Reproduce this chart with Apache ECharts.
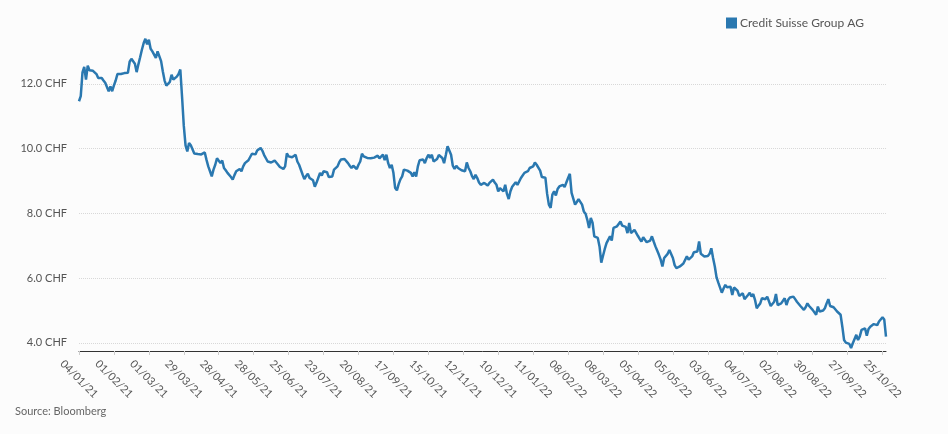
<!DOCTYPE html>
<html>
<head>
<meta charset="utf-8">
<script src="https://cdn.jsdelivr.net/npm/echarts@6/dist/echarts.min.js"></script>
<style>
html,body{margin:0;padding:0;background:#fcfcfc;}
#chart{width:948px;height:434px;}
</style>
</head>
<body>
<div id="chart"></div>
<script>
// Trading calendar (SIX Swiss Exchange), first day and exchange holidays
const startDate = '2021-01-04';
const tradingDayCount = 463;
const holidays = ['2021-04-02','2021-04-05','2021-05-13','2021-05-24','2021-12-24','2021-12-31',
  '2022-04-15','2022-04-18','2022-05-26','2022-06-06','2022-08-01'];

// Closing prices (CHF)
const closes2021 = [
  11.46,11.62,12.35,12.52,12.13,12.56,12.42,12.38,12.40,12.34,
  12.30,12.18,12.22,12.18,12.10,12.03,11.90,11.77,11.92,11.77,
  11.95,12.10,12.30,12.34,12.30,12.35,12.33,12.36,12.34,12.68,
  12.77,12.72,12.62,12.36,12.60,12.82,13.05,13.25,13.39,13.22,
  13.36,13.08,13.00,12.96,12.80,13.00,12.96,12.70,12.38,12.10,
  11.94,11.98,12.06,12.28,12.13,12.16,12.22,12.30,12.44,11.60,
  10.70,10.10,9.91,10.17,10.10,10.07,9.85,9.81,9.83,9.80,
  9.82,9.81,9.88,9.65,9.45,9.30,9.14,9.35,9.50,9.70,
  9.72,9.55,9.63,9.40,9.33,9.25,9.20,9.12,9.04,9.18,
  9.30,9.35,9.37,9.30,9.45,9.55,9.60,9.64,9.62,9.84,
  9.78,9.82,9.94,10.00,10.02,9.93,9.80,9.70,9.60,9.58,
  9.57,9.60,9.63,9.58,9.50,9.43,9.38,9.37,9.45,9.85,
  9.76,9.71,9.73,9.74,9.81,9.60,9.50,9.45,9.20,9.06,
  9.15,9.22,9.09,9.06,9.02,8.82,8.95,9.10,9.25,9.17,
  9.30,9.35,9.27,9.12,9.10,9.14,9.35,9.40,9.45,9.58,
  9.66,9.65,9.68,9.62,9.55,9.47,9.40,9.47,9.42,9.37,
  9.50,9.60,9.84,9.76,9.74,9.71,9.72,9.70,9.71,9.72,
  9.68,9.78,9.70,9.66,9.81,9.64,9.81,9.55,9.40,9.50,
  9.25,8.78,8.71,8.90,9.05,9.14,9.35,9.30,9.32,9.28,
  9.25,9.14,9.27,9.14,9.45,9.64,9.60,9.66,9.55,9.70,
  9.81,9.71,9.81,9.60,9.64,9.68,9.80,9.86,9.71,9.55,
  9.80,10.07,10.06,9.81,9.47,9.37,9.47,9.40,9.35,9.33,
  9.32,9.30,9.57,9.40,9.30,9.15,9.06,9.19,9.09,8.95,
  8.88,8.83,8.94,8.90,8.86,8.94,8.98,9.04,8.95,8.88,
  8.68,8.78,8.74,8.68,8.88,8.60,8.44,8.68,8.82,8.88,
  8.96,8.88,8.86,9.09
];
const closes2022 = [
  9.15,9.25,9.28,9.30,9.40,9.35,
  9.45,9.57,9.50,9.45,9.32,9.12,9.15,9.10,8.60,8.27,
  8.17,8.58,8.68,8.55,8.75,8.83,8.88,8.88,8.81,8.95,
  9.09,9.22,8.63,8.60,8.27,8.35,8.44,8.40,8.27,8.06,
  7.99,7.80,7.55,7.86,7.71,7.29,7.34,7.24,6.98,6.48,
  6.69,6.90,7.08,7.03,7.29,7.16,7.55,7.58,7.60,7.65,
  7.75,7.62,7.60,7.58,7.39,7.70,7.39,7.45,7.49,7.44,
  7.30,7.21,7.13,7.26,7.26,7.11,7.14,7.16,7.29,7.13,
  6.98,6.85,6.72,6.57,6.36,6.62,6.57,6.75,6.87,6.90,
  6.62,6.40,6.31,6.28,6.36,6.38,6.45,6.51,6.67,6.57,
  6.51,6.67,6.80,6.75,6.82,7.13,6.75,6.70,6.67,6.62,
  6.68,6.75,6.92,6.62,6.36,6.02,5.86,5.84,5.55,5.68,
  5.79,5.72,5.68,5.73,5.48,5.71,5.73,5.61,5.45,5.50,
  5.53,5.35,5.35,5.48,5.55,5.43,5.51,5.33,5.07,5.15,
  5.22,5.38,5.33,5.35,5.43,5.38,5.14,5.20,5.27,5.51,
  5.17,5.20,5.22,5.27,5.38,5.17,5.33,5.40,5.45,5.43,
  5.35,5.27,5.24,5.14,5.10,5.02,5.10,5.22,5.14,5.10,
  5.02,5.07,4.87,5.12,4.97,4.97,5.00,5.07,5.22,5.35,
  5.14,5.12,5.10,5.04,4.97,4.92,4.87,4.50,4.09,4.01,
  4.00,3.97,3.84,3.99,3.94,4.25,4.09,4.20,4.40,4.35,
  4.45,4.22,4.43,4.50,4.48,4.58,4.58,4.55,4.66,4.70,
  4.79,4.72,4.19
];
const yTickValues = [4, 6, 8, 10, 12];
const seriesName = 'Credit Suisse Group AG';
const sourceText = 'Source: Bloomberg';

// Build category labels dd/mm/yy for trading days
function pad(n){return (n<10?'0':'')+n;}
const dates = [];
{
  const d = new Date(startDate + 'T12:00:00Z');
  while (dates.length < tradingDayCount) {
    const iso = d.toISOString().slice(0,10);
    const wd = d.getUTCDay();
    if (wd !== 0 && wd !== 6 && holidays.indexOf(iso) < 0) {
      dates.push(pad(d.getUTCDate()) + '/' + pad(d.getUTCMonth()+1) + '/' + String(d.getUTCFullYear()).slice(2));
    }
    d.setUTCDate(d.getUTCDate()+1);
  }
}
const closes = closes2021.concat(closes2022);

const chart = echarts.init(document.getElementById('chart'), null, {renderer:'canvas'});
const font = 'Lato, "Noto Sans", sans-serif';
chart.setOption({
  animation:false,
  backgroundColor:'#fcfcfc',
  textStyle:{fontFamily:font},
  title:{text:sourceText, left:10, top:401, textStyle:{fontSize:11, fontWeight:'normal', color:'#666', fontFamily:font}},
  legend:{
    data:[seriesName], left:721, top:12, icon:'rect', itemWidth:11, itemHeight:11, itemGap:6,
    textStyle:{fontSize:12, color:'#555', fontFamily:font, padding:[0,0,0,-2]}
  },
  grid:{left:79, right:62, top:19, bottom:83, containLabel:false},
  xAxis:{
    type:'category', data:dates, boundaryGap:false,
    axisLine:{lineStyle:{color:'#333', width:1}},
    axisTick:{interval:19, length:4, lineStyle:{color:'#ccc'}},
    axisLabel:{interval:19, rotate:-45, align:'center', verticalAlign:'middle', margin:28,
      color:'#555', fontSize:11, fontFamily:font},
    splitLine:{show:false}
  },
  yAxis:{
    type:'value', min:3.75, max:14,
    axisLine:{show:false},
    axisTick:{show:false, customValues:yTickValues},
    axisLabel:{customValues:yTickValues, formatter:function(v){return v.toFixed(1)+' CHF';},
      color:'#555', fontSize:11, margin:12, fontFamily:font},
    splitLine:{show:true, lineStyle:{type:'dotted', color:'#d8d8d8', width:1}}
  },
  series:[{
    name:seriesName, type:'line', data:closes, showSymbol:false, symbol:'none',
    lineStyle:{color:'#2a78b0', width:2.5}, itemStyle:{color:'#2a78b0'}
  }]
});
</script>
</body>
</html>
